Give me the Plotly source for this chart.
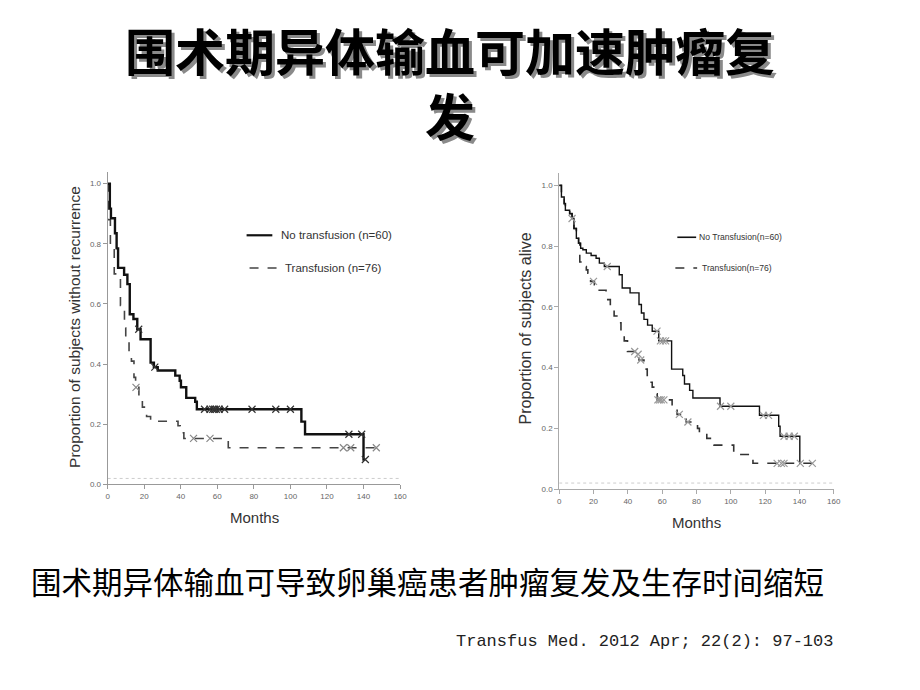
import numpy as np
import plotly.graph_objects as go

W, H = 920, 690

# ---------------- data ----------------
title_text = "围术期异体输血可加速肿瘤复发"
subtitle_text = "围术期异体输血可导致卵巢癌患者肿瘤复发及生存时间缩短"
citation_text = "Transfus Med. 2012 Apr; 22(2): 97-103"

x_ticks = [0, 20, 40, 60, 80, 100, 120, 140, 160]
y_ticks = [0.0, 0.2, 0.4, 0.6, 0.8, 1.0]
y_tick_labels = ["0.0", "0.2", "0.4", "0.6", "0.8", "1.0"]

left_ytitle = "Proportion of subjects without recurrence"
right_ytitle = "Proportion of subjects alive"
xtitle = "Months"

left_names = ["No transfusion (n=60)", "Transfusion (n=76)"]
right_names = ["No Transfusion(n=60)", "Transfusion(n=76)"]

# Recurrence-free (left) - no transfusion
rec_nt_t = [0, 1.2, 1.8, 4.0, 4.9, 5.7, 9.0, 10.8, 12.1, 14.1, 16.2, 18.0, 23.5, 25.3,
            27.4, 37.0, 39.4, 40.1, 43.0, 47.9, 48.8, 106.0, 108.0, 140.0, 141.0]
rec_nt_s = [1.0, 0.917, 0.885, 0.835, 0.785, 0.72, 0.697, 0.666, 0.566, 0.55, 0.516, 0.483,
            0.405, 0.39, 0.379, 0.362, 0.345, 0.323, 0.288, 0.275, 0.25, 0.209, 0.167, 0.083, 0.083]
rec_nt_cens = [17.0, 25.8, 53.0, 56.0, 57.5, 58.5, 59.5, 61.0, 64.0, 79.0, 92.0, 100.0, 132.0, 139.0, 141.0]

# Recurrence-free (left) - transfusion
rec_t_t = [0, 0.5, 1.5, 3.6, 7.0, 9.2, 9.9, 11.7, 13.0, 14.4, 15.3, 17.1, 19.0, 21.3, 23.5,
           38.5, 39.7, 41.7, 66.0, 147.0]
rec_t_s = [1.0, 0.88, 0.78, 0.70, 0.595, 0.52, 0.483, 0.44, 0.41, 0.356, 0.323, 0.28, 0.257,
           0.226, 0.21, 0.195, 0.172, 0.153, 0.122, 0.122]
rec_t_cens = [15.5, 47.0, 56.0, 129.0, 133.0, 147.0]

# Overall survival (right) - no transfusion
os_nt_t = [0, 1.3, 2.9, 3.6, 6.1, 7.5, 8.6, 10.0, 11.3, 12.5, 13.8, 15.8, 18.6, 21.5, 23.4,
           26.3, 35.0, 36.7, 41.3, 46.5, 47.9, 49.4, 51.5, 54.2, 58.0, 65.5, 72.0, 73.0,
           76.0, 77.9, 93.7, 116.7, 127.9, 128.7, 140.2, 140.6]
os_nt_s = [1.0, 0.962, 0.94, 0.918, 0.907, 0.891, 0.858, 0.826, 0.81, 0.793, 0.788, 0.777,
           0.769, 0.76, 0.744, 0.733, 0.706, 0.662, 0.646, 0.608, 0.58, 0.559, 0.54, 0.52,
           0.488, 0.395, 0.374, 0.346, 0.325, 0.30, 0.273, 0.243, 0.207, 0.174, 0.085, 0.085]
os_nt_cens = [7.5, 28.0, 57.0, 59.0, 60.5, 62.0, 94.0, 100.0, 119.0, 122.0, 131.0, 134.0, 137.0, 140.5]

# Overall survival (right) - transfusion
os_t_t = [0, 1.3, 2.9, 3.6, 6.1, 7.5, 8.6, 10.0, 11.3, 12.0, 14.5, 15.8, 16.7, 18.3, 20.5,
          22.5, 27.3, 28.3, 29.8, 32.0, 33.6, 36.0, 37.9, 39.8, 45.6, 46.5, 49.4, 51.3,
          52.9, 54.2, 55.6, 57.1, 65.8, 68.7, 74.0, 80.6, 81.7, 86.0, 90.2, 101.7, 112.9, 147.5]
os_t_s = [1.0, 0.962, 0.94, 0.918, 0.907, 0.891, 0.858, 0.826, 0.81, 0.748, 0.733, 0.722,
          0.711, 0.684, 0.673, 0.655, 0.646, 0.624, 0.603, 0.57, 0.548, 0.52, 0.488, 0.453,
          0.444, 0.425, 0.395, 0.374, 0.352, 0.336, 0.314, 0.294, 0.27, 0.246, 0.221, 0.20,
          0.185, 0.167, 0.145, 0.114, 0.085, 0.085]
os_t_cens = [20.0, 44.0, 46.0, 47.5, 57.5, 58.5, 59.5, 61.0, 70.0, 75.0, 127.0, 129.5, 131.0, 147.5]


def step_value(t_arr, s_arr, times):
    t = np.asarray(t_arr)
    s = np.asarray(s_arr)
    idx = np.searchsorted(t, np.asarray(times), side="right") - 1
    idx = np.clip(idx, 0, len(s) - 1)
    return s[idx].tolist()


fig = go.Figure()

# faint dotted reference line near the x axes
for xa, ya in [("x", "y"), ("x2", "y2")]:
    fig.add_trace(go.Scatter(x=[0, 160], y=[0.02, 0.02], mode="lines",
                             line=dict(color="#cccccc", width=1, dash="dot"),
                             xaxis=xa, yaxis=ya, showlegend=False, hoverinfo="skip"))


def add_curve(t, s, cens, xa, ya, color, width, dash, mcolor):
    fig.add_trace(go.Scatter(x=t, y=s, mode="lines", line=dict(shape="hv", color=color, width=width, dash=dash),
                             xaxis=xa, yaxis=ya, showlegend=False, hoverinfo="skip"))
    fig.add_trace(go.Scatter(x=cens, y=step_value(t, s, cens), mode="markers",
                             marker=dict(symbol="x-thin", size=7, line=dict(color=mcolor, width=1.2)),
                             xaxis=xa, yaxis=ya, showlegend=False, hoverinfo="skip"))

add_curve(rec_t_t, rec_t_s, rec_t_cens, "x", "y", "#444444", 1.6, "dash", "#888888")
add_curve(rec_nt_t, rec_nt_s, rec_nt_cens, "x", "y", "#111111", 2.4, "solid", "#333333")
add_curve(os_t_t, os_t_s, os_t_cens, "x2", "y2", "#333333", 1.6, "dash", "#999999")
add_curve(os_nt_t, os_nt_s, os_nt_cens, "x2", "y2", "#111111", 1.4, "solid", "#999999")

tickfont = dict(family="Liberation Sans, Arial", size=8, color="#666666")

def axis(domain, rng, ticks, labels=None, anchor=None, linecolor="#999999"):
    d = dict(domain=domain, range=rng, tickvals=ticks, showgrid=False, zeroline=False,
             showline=True, linecolor=linecolor, linewidth=1, ticks="outside", ticklen=4,
             tickcolor=linecolor, tickfont=tickfont, anchor=anchor, fixedrange=True)
    if labels is not None:
        d["ticktext"] = labels
    return d

# plot-area geometry (pixels)
Lx0, Lx1, Ly0, Ly1 = 106.7, 402.0, 488.0, 172.9
Rx0, Rx1, Ry0, Ry1 = 562.7, 840.0, 492.7, 174.5

fig.update_layout(
    width=W, height=H, margin=dict(l=0, r=0, t=0, b=0),
    paper_bgcolor="white", plot_bgcolor="white",
    xaxis=axis([Lx0 / W, Lx1 / W], [0, 160], x_ticks, anchor="y"),
    yaxis=axis([1 - Ly0 / H, 1 - Ly1 / H], [0, 1.04], y_ticks, y_tick_labels, anchor="x"),
    xaxis2=axis([Rx0 / W, Rx1 / W], [0, 160], x_ticks, anchor="y2", linecolor="#aaaaaa"),
    yaxis2=axis([1 - Ry0 / H, 1 - Ry1 / H], [0, 1.04], y_ticks, y_tick_labels, anchor="x2", linecolor="#aaaaaa"),
)

ann = []
def px_ann(x, y, text, size, family, color="#000000", angle=0, xanchor="center", shadow=None):
    font = dict(size=size, family=family, color=color)
    if shadow:
        font["shadow"] = shadow
    ann.append(dict(x=x / W, y=1 - y / H, xref="paper", yref="paper", text=text, showarrow=False,
                    font=font, textangle=angle, xanchor=xanchor, yanchor="middle"))

cjk = "Noto Sans CJK SC"
# title (wrapped onto two lines) with drop shadow
px_ann(452, 82, "<b>" + title_text[:13] + "<br>" + title_text[13:] + "</b>", 50, cjk,
       shadow="3px 3px 0px #8a8a8a")

px_ann(430, 585, subtitle_text, 30.5, cjk, color="#000000")
px_ann(841, 646, citation_text, 17, "Liberation Mono, DejaVu Sans Mono", color="#222222", xanchor="right")

# axis titles
lat = "Liberation Sans, Arial"
px_ann(73, 329, left_ytitle, 15.5, lat, color="#333333", angle=-90)
px_ann(255, 521, xtitle, 15, lat, color="#333333")
px_ann(529, 331, right_ytitle, 16, lat, color="#333333", angle=-90)
px_ann(701, 526, xtitle, 15, lat, color="#333333")

# legends
px_ann(280, 237, left_names[0], 11.5, lat, color="#333333", xanchor="left")
px_ann(284, 270, left_names[1], 11.5, lat, color="#333333", xanchor="left")
px_ann(702, 239, right_names[0], 8.6, lat, color="#333333", xanchor="left")
px_ann(705, 270, right_names[1], 8.6, lat, color="#333333", xanchor="left")

shapes = []
def px_line(x0, y0, x1, y1, color, width, dash="solid"):
    shapes.append(dict(type="line", xref="paper", yref="paper", x0=x0 / W, x1=x1 / W,
                       y0=1 - y0 / H, y1=1 - y1 / H, line=dict(color=color, width=width, dash=dash)))

px_line(247, 237, 273, 237, "#111111", 2.2)
px_line(250, 270, 278, 270, "#444444", 1.4, "dash")
px_line(682, 239, 701, 239, "#111111", 1.6)
px_line(680, 270, 702, 270, "#333333", 1.6, "dash")

fig.update_layout(annotations=ann, shapes=shapes)

fig.write_html("out.html")
